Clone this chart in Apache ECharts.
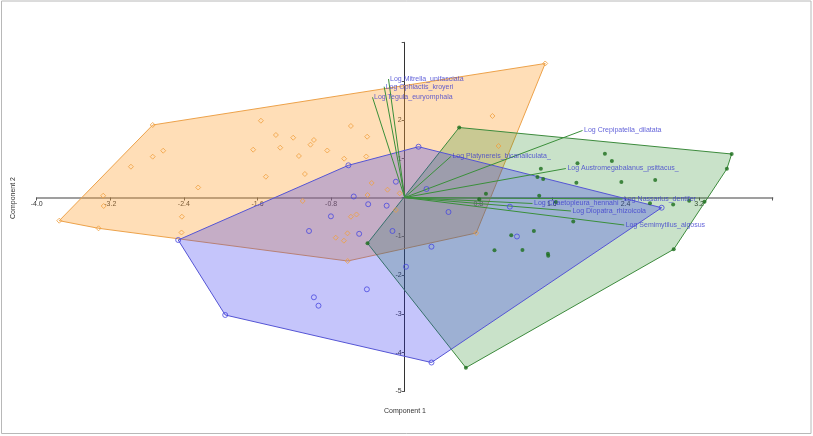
<!DOCTYPE html>
<html><head><meta charset="utf-8">
<script src="https://cdn.jsdelivr.net/npm/echarts@6/dist/echarts.min.js"></script>
<style>html,body{margin:0;padding:0;background:#fff}#c{width:813px;height:436px}</style>
</head><body><div id="c"></div>
<script>
// Group 1 (orange)
const orangePts = [
 [1.527,3.454],[-2.739,1.869],[-3.755,-0.598],[-3.328,-0.794],[-0.620,-1.637],[0.777,-0.915],
 [-2.625,1.206],[-2.739,1.052],[-2.976,0.794],[-3.277,0.046],[-3.272,-0.219],[-2.245,0.258],
 [-1.563,1.979],[-1.400,1.611],[-1.212,1.541],[-0.987,1.482],[-1.024,1.361],[-1.353,1.284],
 [-1.647,1.232],[-0.842,1.211],[-1.150,1.070],[-0.585,1.843],[-0.408,1.567],[-0.658,1.000],
 [-0.418,1.057],[-1.509,0.536],[-1.085,0.606],[-0.359,0.374],[-0.187,0.201],[-0.404,0.064],
 [-0.054,0.108],[-1.109,-0.090],[-0.585,-0.495],[-0.524,-0.438],[-0.622,-0.923],[-0.750,-1.036],
 [-0.661,-1.113],[-0.096,-0.322],[-2.422,-0.495],[-2.426,-0.902],[0.954,2.101],[1.020,1.327]
];
// Group 2 (blue)
const bluePts = [
 [0.150,1.309],[-0.612,0.830],[-2.462,-1.095],[-1.951,-3.028],[0.291,-4.253],[2.793,-0.263],
 [-0.096,0.407],[0.237,0.219],[-0.554,0.026],[-0.397,-0.173],[-0.196,-0.211],[-0.802,-0.485],
 [-1.040,-0.863],[-0.495,-0.936],[-0.133,-0.863],[0.476,-0.374],[0.291,-1.268],[0.014,-1.784],
 [-0.411,-2.366],[-0.987,-2.572],[-0.937,-2.789],[1.143,-0.237],[1.220,-1.005]
];
// Group 3 (green)
const greenPts = [
 [0.592,1.804],[3.554,1.121],[3.502,0.740],[3.259,-0.108],[2.924,-1.335],[0.665,-4.387],
 [-0.404,-1.180],[2.176,1.129],[2.252,0.941],[1.878,0.881],[1.480,0.740],[1.443,0.528],
 [1.505,0.477],[1.866,0.379],[2.355,0.399],[2.723,0.451],[0.883,0.095],[0.810,-0.046],
 [1.462,0.046],[1.643,-0.116],[2.666,-0.147],[2.918,-0.180],[3.092,-0.085],[1.832,-0.619],
 [1.404,-0.863],[1.158,-0.974],[0.976,-1.361],[1.280,-1.353],[1.557,-1.448],[1.560,-1.503]
];
const vectorNames = [
 'Log Mitrella_unifasciata','Log Ophiactis_kroyeri','Log Tegula_euryomphala',
 'Log Crepipatella_dilatata','Log Platynereis_bicanaliculata_','Log Austromegabalanus_psittacus_',
 'Log Nassarius_dentifer','Log Chaetopleura_hennahi','Log Diopatra_rhizoicola','Log Semimytilus_algosus'
];
const vectorEnds = [
 [-0.176,3.054],[-0.223,2.856],[-0.350,2.582],[1.933,1.727],[0.502,1.057],
 [1.752,0.747],[2.367,-0.039],[1.389,-0.155],[1.807,-0.348],[2.386,-0.709]
];
const xAxisName = 'Component 1';
const yAxisName = 'Component 2';

function hull(pts){
  const p = pts.slice().sort((a,b)=>a[0]-b[0]||a[1]-b[1]);
  const cr=(o,a,b)=>(a[0]-o[0])*(b[1]-o[1])-(a[1]-o[1])*(b[0]-o[0]);
  const lo=[],up=[];
  for(const q of p){while(lo.length>=2&&cr(lo[lo.length-2],lo[lo.length-1],q)<=0)lo.pop();lo.push(q);}
  for(let i=p.length-1;i>=0;i--){const q=p[i];while(up.length>=2&&cr(up[up.length-2],up[up.length-1],q)<=0)up.pop();up.push(q);}
  up.pop();lo.pop();return lo.concat(up);
}
function polySeries(pts, fill, stroke, z){
  const h = hull(pts);
  return {type:'custom', coordinateSystem:'cartesian2d', silent:true, z:z,
    data:[[0,0]],
    renderItem:(params, api)=>({type:'polygon', shape:{points:h.map(p=>api.coord(p))},
      style:{fill:fill, stroke:stroke, lineWidth:1}})
  };
}
const FONT = 'Liberation Sans';
const series = [
  polySeries(orangePts,'rgba(255,160,50,0.35)','#eda24a',1),
  polySeries(greenPts,'rgba(40,140,40,0.25)','#3d8b3d',2),
  polySeries(bluePts,'rgba(40,40,240,0.27)','#5555d5',3)
];
vectorEnds.forEach((v,i)=>{
  series.push({type:'line', z:4, silent:true, symbol:'none', data:[[0,0],v],
    lineStyle:{color:'#3a8f3a', width:1}, animation:false});
});
series.push({type:'scatter', z:6, silent:true, symbol:'circle', symbolSize:1,
  itemStyle:{color:'rgba(0,0,0,0)'},
  data:vectorEnds.map((v,i)=>({value:v, name:vectorNames[i]})),
  label:{show:true, position:'right', distance:1, formatter:'{b}', color:'#3a3ad0', fontSize:7, fontFamily:FONT}
});
series.push({type:'scatter', z:5, symbol:'diamond', symbolSize:5, data:orangePts,
  itemStyle:{color:'rgba(0,0,0,0)', borderColor:'#f0a040', borderWidth:1}});
series.push({type:'scatter', z:5, symbol:'circle', symbolSize:5, data:bluePts,
  itemStyle:{color:'rgba(0,0,0,0)', borderColor:'#4848e0', borderWidth:1}});
series.push({type:'scatter', z:5, symbol:'circle', symbolSize:4, data:greenPts,
  itemStyle:{color:'#1b6e1b'}});

const G = {left:36.7, right:40.3, top:42.3, bottom:44.5};
const W = 813 - G.left - G.right, H = 436 - G.top - G.bottom;
const X_MIN=-4, X_MAX=4, Y_MIN=-5, Y_MAX=4;
// shift axes so they cross at the origin
const xOff = -(H * (0 - Y_MIN) / (Y_MAX - Y_MIN));
const yOff = -(W * (0 - X_MIN) / (X_MAX - X_MIN));

const chart = echarts.init(document.getElementById('c'), null, {renderer:'canvas'});
chart.setOption({
  animation:false,
  backgroundColor:'#fff',
  grid:{left:G.left, right:G.right, top:G.top, bottom:G.bottom, containLabel:false},
  xAxis:{type:'value', min:X_MIN, max:X_MAX, interval:0.8, position:'bottom', offset:xOff,
    axisLine:{onZero:false, lineStyle:{color:'#808080', width:1.5}},
    axisTick:{show:true, length:3, lineStyle:{color:'#555'}},
    splitLine:{show:false},
    axisLabel:{margin:3, fontSize:7, color:'#333', fontFamily:FONT, showMinLabel:true, showMaxLabel:true,
      formatter:v=>(Math.abs(v)<1e-6||v>3.9)?'':v.toFixed(1)}},
  yAxis:{type:'value', min:Y_MIN, max:Y_MAX, interval:1, position:'left', offset:yOff,
    axisLine:{show:true, onZero:false, lineStyle:{color:'#333', width:1}},
    axisTick:{show:true, length:3, lineStyle:{color:'#555'}},
    splitLine:{show:false},
    axisLabel:{margin:3, fontSize:7, color:'#333', fontFamily:FONT, showMinLabel:true,
      formatter:v=>(Math.abs(v)<1e-6||v>2.5)?'':String(v)}},
  graphic:[
    {type:'rect', shape:{x:1.5,y:1,width:809.5,height:432.5}, style:{fill:'none', stroke:'#b8b8b8', lineWidth:1}, silent:true},
    {type:'text', x:405, y:411, style:{text:xAxisName, fontSize:7, fill:'#333', fontFamily:FONT, align:'center', verticalAlign:'middle'}},
    {type:'text', x:13, y:198, rotation:Math.PI/2, style:{text:yAxisName, fontSize:7, fill:'#333', fontFamily:FONT, align:'center', verticalAlign:'middle'}}
  ],
  series:series
});
</script></body></html>
